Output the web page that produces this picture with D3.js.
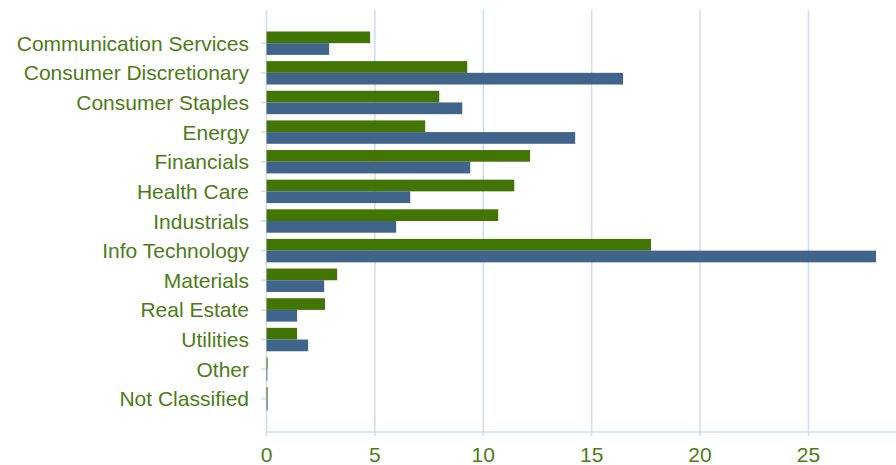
<!DOCTYPE html>
<html>
<head>
<meta charset="utf-8">
<script src="https://cdn.jsdelivr.net/npm/d3@7"></script>
<style>
  html, body { margin: 0; padding: 0; background: #fff; }
  svg { display: block; }
</style>
</head>
<body>
<svg id="chart" width="896" height="465"></svg>
<script>
const categories = ["Communication Services","Consumer Discretionary","Consumer Staples","Energy","Financials","Health Care","Industrials","Info Technology","Materials","Real Estate","Utilities","Other","Not Classified"];
const seriesGreen = [4.78, 9.26, 7.97, 7.32, 12.16, 11.43, 10.69, 17.74, 3.26, 2.70, 1.41, 0.05, 0.05];
const seriesBlue  = [2.89, 16.45, 9.03, 14.24, 9.40, 6.63, 5.98, 28.12, 2.66, 1.41, 1.92, 0.03, 0.05];
const xTicks = [0, 5, 10, 15, 20, 25];

(function () {
const svg = d3.select("#chart");
const mLeft = 266.5, mRight = 896, mTop = 10, mBottom = 432;
const gridColor = "#cfe0e8";
const textColor = "#4b7d16";
const greenColor = "#437504";
const blueColor = "#40648a";

const x = d3.scaleLinear().domain([0, 29.04]).range([mLeft, mRight]);
const y = d3.scaleBand().domain(categories).range([mTop, mBottom]).paddingInner(0).paddingOuter(0.62);

// gridlines
svg.append("g").selectAll("line").data(xTicks).join("line")
  .attr("x1", d => x(d)).attr("x2", d => x(d))
  .attr("y1", mTop).attr("y2", mBottom + 4)
  .attr("stroke", gridColor).attr("stroke-width", 1.6);

// bottom axis line
svg.append("line").attr("x1", mLeft).attr("x2", mRight).attr("y1", mBottom).attr("y2", mBottom)
  .attr("stroke", gridColor).attr("stroke-width", 1.6);

// category ticks
svg.append("g").selectAll("line").data(categories).join("line")
  .attr("x1", mLeft - 5.5).attr("x2", mLeft)
  .attr("y1", d => y(d) + y.bandwidth() / 2).attr("y2", d => y(d) + y.bandwidth() / 2)
  .attr("stroke", gridColor).attr("stroke-width", 1.6);

const barH = 11.7;
const rows = categories.map((c, i) => ({ c, g: seriesGreen[i], b: seriesBlue[i] }));

svg.append("g").selectAll("rect").data(rows).join("rect")
  .attr("x", x(0)).attr("width", d => Math.max(0.8, x(d.g) - x(0)))
  .attr("y", d => y(d.c) + y.bandwidth() / 2 - barH).attr("height", barH)
  .attr("fill", greenColor);

svg.append("g").selectAll("rect").data(rows).join("rect")
  .attr("x", x(0)).attr("width", d => Math.max(0.8, x(d.b) - x(0)))
  .attr("y", d => y(d.c) + y.bandwidth() / 2).attr("height", barH)
  .attr("fill", blueColor);

// category labels
svg.append("g").selectAll("text").data(categories).join("text")
  .attr("x", 249).attr("y", d => y(d) + y.bandwidth() / 2)
  .attr("dy", "0.36em")
  .attr("text-anchor", "end")
  .attr("font-family", "'Liberation Sans', Arial, sans-serif")
  .attr("font-size", "21px")
  .attr("fill", textColor)
  .text(d => d);

// x tick labels
svg.append("g").selectAll("text").data(xTicks).join("text")
  .attr("x", d => x(d)).attr("y", 462)
  .attr("text-anchor", "middle")
  .attr("font-family", "'Liberation Sans', Arial, sans-serif")
  .attr("font-size", "21px")
  .attr("fill", textColor)
  .text(d => d);
})();
</script>
</body>
</html>
